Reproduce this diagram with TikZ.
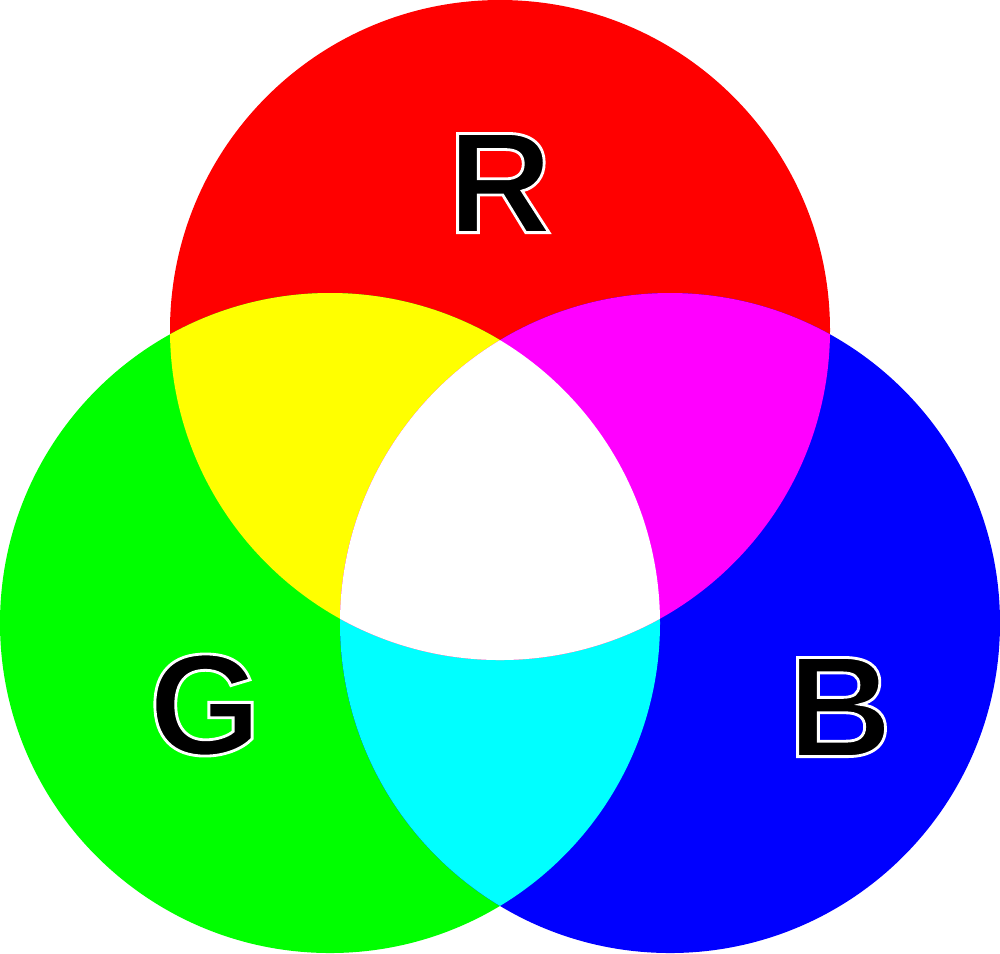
\documentclass[tikz,border=0pt]{standalone}
\usepackage{fontspec}
\setmainfont{Liberation Sans}
\definecolor{cR}{RGB}{255,0,0}
\definecolor{cG}{RGB}{0,255,0}
\definecolor{cB}{RGB}{0,0,255}
\definecolor{cY}{RGB}{255,255,0}
\definecolor{cM}{RGB}{255,0,255}
\definecolor{cC}{RGB}{0,255,255}
\tikzset{lbl/.style={font=\fontsize{41}{41}\selectfont\bfseries, inner sep=0pt}}
\newcommand{\outl}[1]{\special{pdf:code q 2 Tr 1 1 1 RG 0.8 w}#1\special{pdf:code Q}}
\begin{document}
\begin{tikzpicture}[x=0.01cm,y=-0.01cm]
\useasboundingbox (0,0) rectangle (1000,953);
\def\R{(500,330) circle (330)}
\def\G{(330,623) circle (330)}
\def\B{(670,623) circle (330)}
\fill[cR] \R; \fill[cG] \G; \fill[cB] \B;
\begin{scope}\clip \G; \fill[cC] \B;\end{scope}
\begin{scope}\clip \R; \fill[cY] \G; \fill[cM] \B;
\begin{scope}\clip \G; \fill[white] \B;\end{scope}\end{scope}
\node[lbl] (r) at (500,183) {\outl{R}};
\node[lbl] (g) at (205,705) {\outl{G}};
\node[lbl] (b) at (840,707) {\outl{B}};
\end{tikzpicture}
\end{document}
